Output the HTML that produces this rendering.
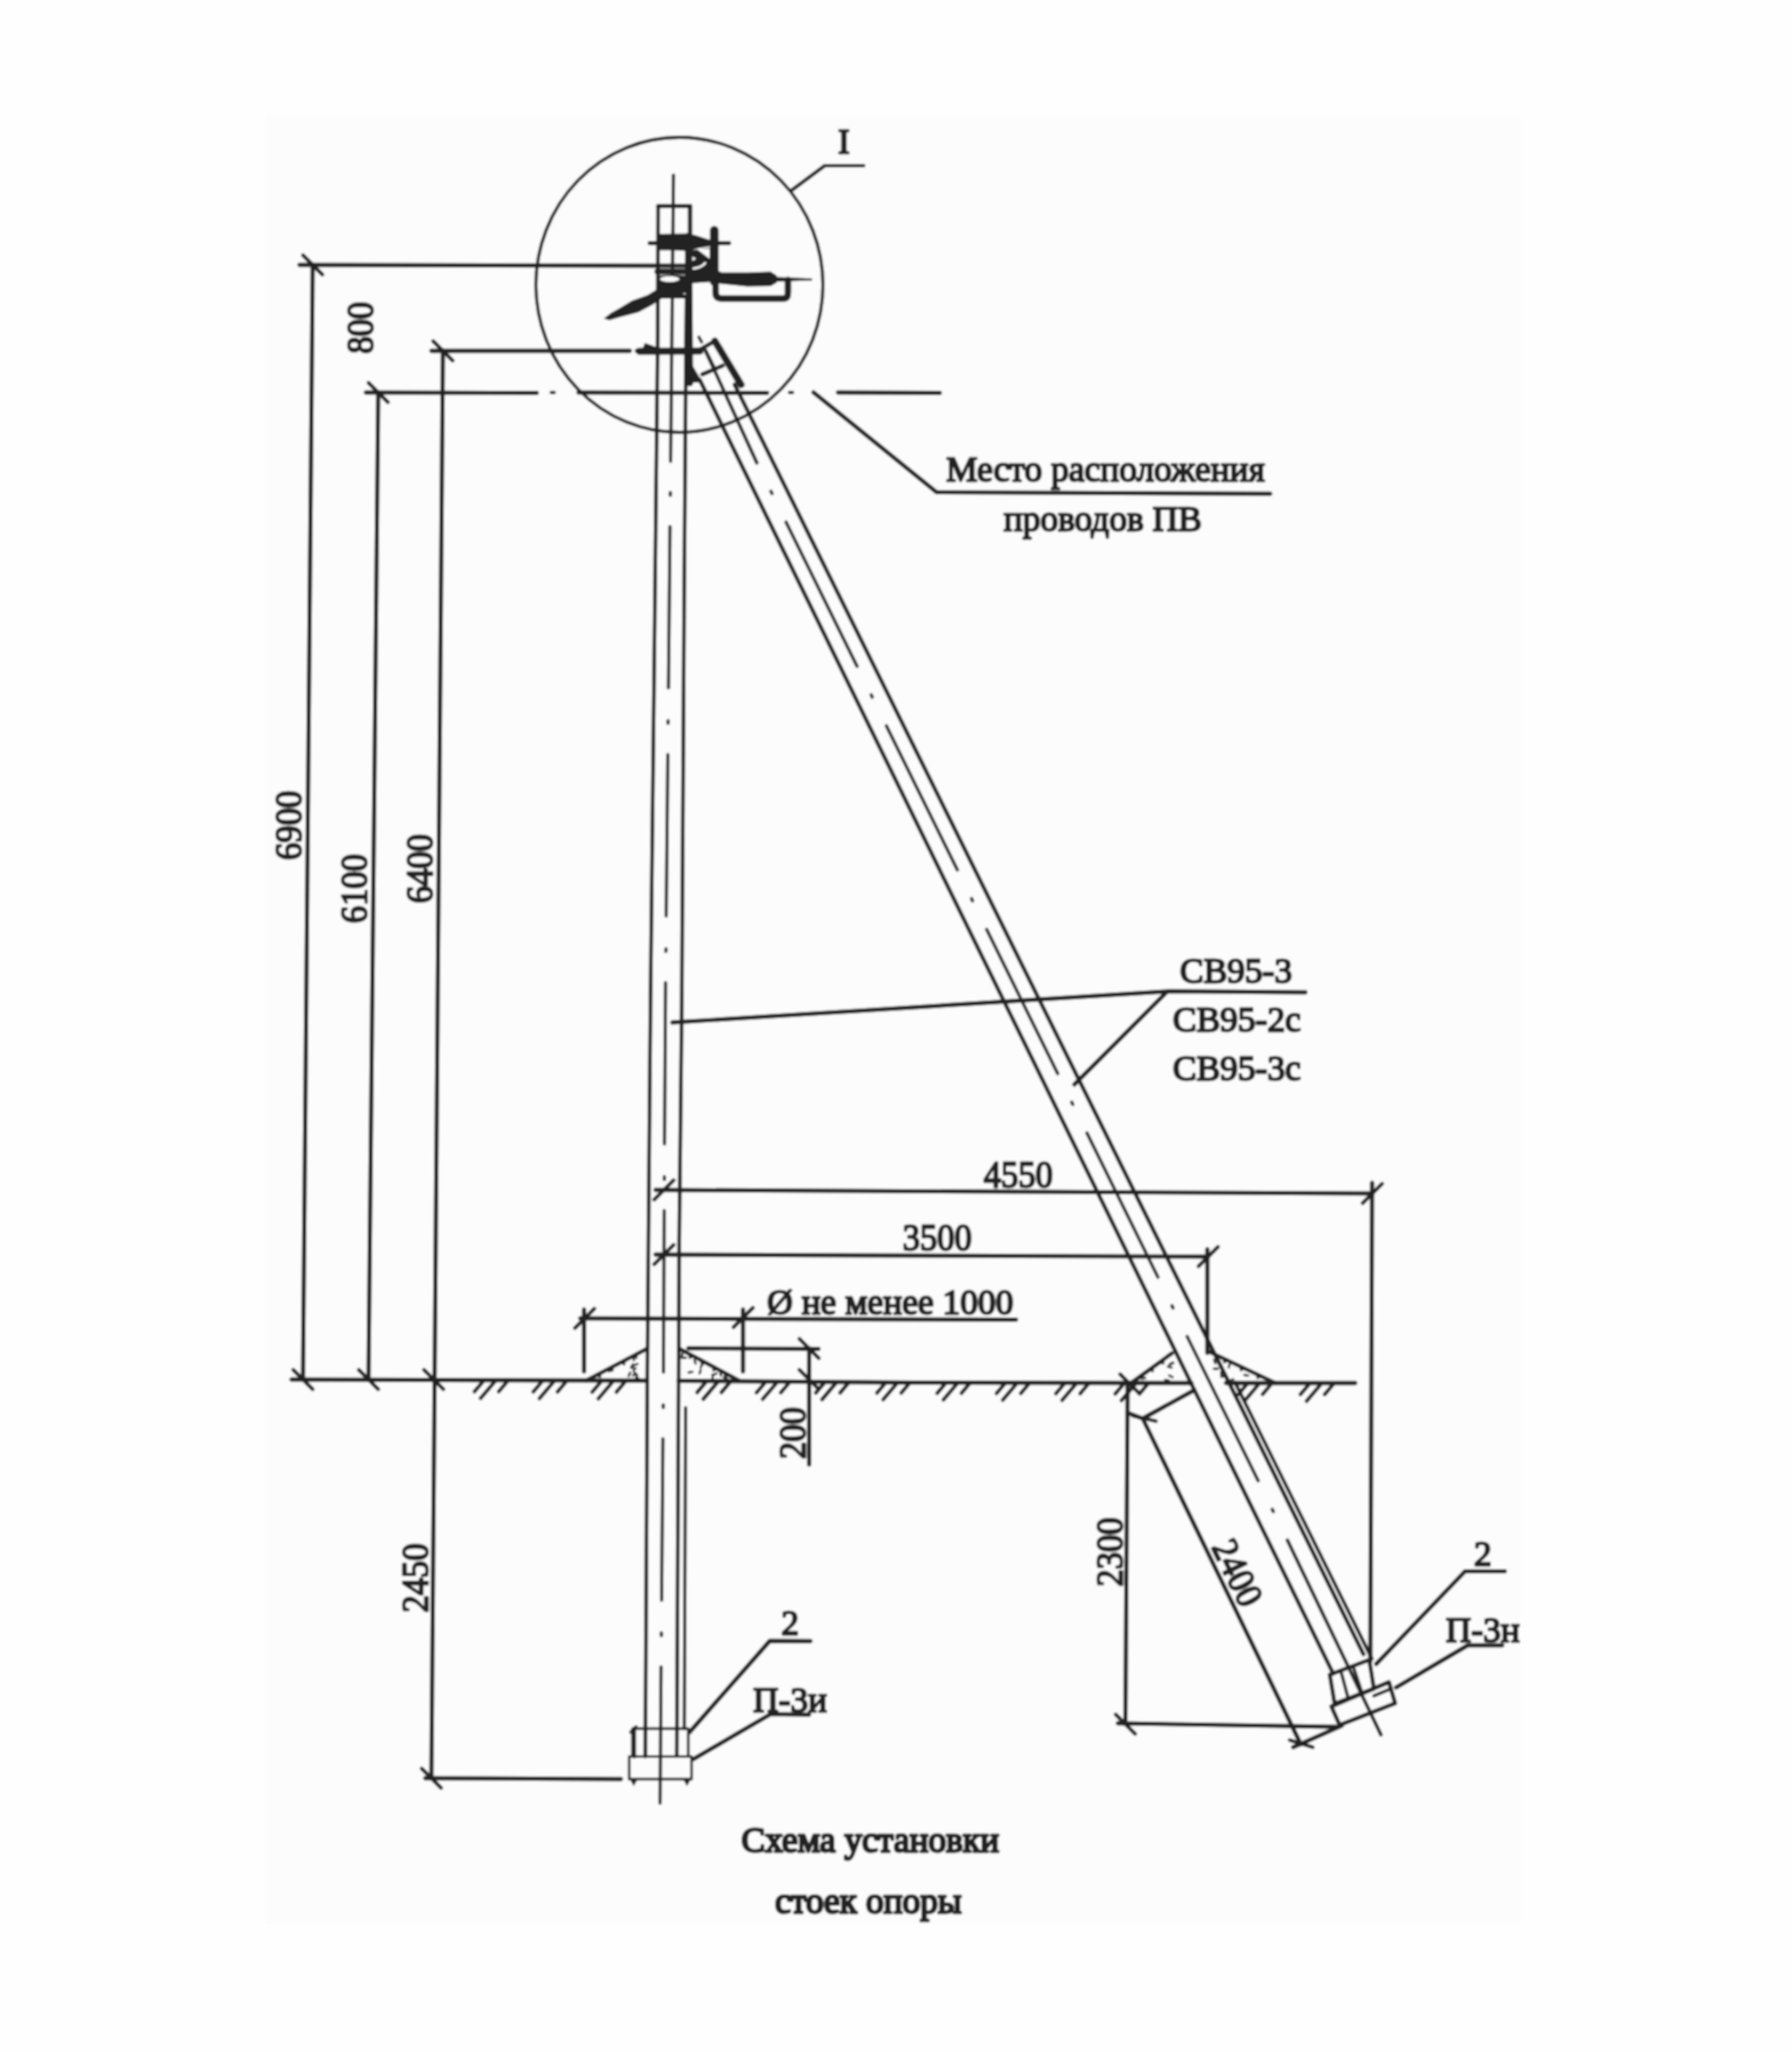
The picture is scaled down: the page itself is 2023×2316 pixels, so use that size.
<!DOCTYPE html>
<html><head><meta charset="utf-8"><style>
html,body{margin:0;padding:0;background:#fefefe;}
svg{display:block}
text{font-family:"Liberation Serif",serif;font-size:40px;fill:#222222;stroke:#222222;stroke-width:2.4px}
</style></head><body><div id="w">
<svg width="2023" height="2316" viewBox="0 0 2023 2316">
<defs><filter id="bl" x="0" y="0" width="1" height="1"><feGaussianBlur stdDeviation="0.9"/></filter></defs>
<g stroke="#222222" stroke-linecap="round" stroke-linejoin="round" filter="url(#bl)">
<rect x="299" y="130" width="1418" height="2042" fill="#fcfcfc" stroke="none"/>
<line x1="353.0" y1="299.0" x2="342.0" y2="1557.0" stroke-width="4.93" />
<line x1="342.0" y1="288.0" x2="364.0" y2="310.0" stroke-width="4.35" />
<line x1="331.0" y1="1546.0" x2="353.0" y2="1568.0" stroke-width="4.35" />
<line x1="427.0" y1="443.0" x2="416.0" y2="1557.0" stroke-width="4.93" />
<line x1="416.0" y1="432.0" x2="438.0" y2="454.0" stroke-width="4.35" />
<line x1="405.0" y1="1546.0" x2="427.0" y2="1568.0" stroke-width="4.35" />
<line x1="500.0" y1="396.0" x2="487.0" y2="2007.0" stroke-width="4.93" />
<line x1="489.0" y1="385.0" x2="511.0" y2="407.0" stroke-width="4.35" />
<line x1="478.6" y1="1546.0" x2="500.6" y2="1568.0" stroke-width="4.35" />
<line x1="476.0" y1="1996.0" x2="498.0" y2="2018.0" stroke-width="4.35" />
<line x1="338.0" y1="299.0" x2="776.0" y2="300.0" stroke-width="4.93" />
<line x1="487.0" y1="396.0" x2="711.0" y2="396.0" stroke-width="4.93" />
<line x1="719.0" y1="396.0" x2="786.0" y2="396.0" stroke-width="4.93" />
<line x1="413.0" y1="443.0" x2="606.0" y2="443.5" stroke-width="4.93" />
<line x1="653.0" y1="443.0" x2="866.0" y2="443.5" stroke-width="4.93" />
<line x1="946.0" y1="443.0" x2="1061.0" y2="443.5" stroke-width="4.93" />
<line x1="622.5" y1="443.0" x2="625.5" y2="443.0" stroke-width="4.06" />
<line x1="891.5" y1="443.0" x2="894.5" y2="443.0" stroke-width="4.06" />
<line x1="480.0" y1="2007.0" x2="701.0" y2="2008.0" stroke-width="4.93" />
<polyline points="329.0,1557.0 730.0,1558.3" fill="none" stroke-width="4.93" />
<polyline points="766.0,1558.5 1030.0,1560.5 1345.0,1561.0" fill="none" stroke-width="4.93" />
<polyline points="1384.0,1561.0 1530.0,1561.0" fill="none" stroke-width="4.93" />
<line x1="535.6" y1="1570.7" x2="545.0" y2="1559.7" stroke-width="4.35" />
<line x1="542.6" y1="1578.2" x2="558.3" y2="1559.7" stroke-width="4.35" />
<line x1="563.0" y1="1570.7" x2="572.3" y2="1559.7" stroke-width="4.35" />
<line x1="602.0" y1="1570.9" x2="611.4" y2="1559.9" stroke-width="4.35" />
<line x1="609.0" y1="1578.4" x2="624.7" y2="1559.9" stroke-width="4.35" />
<line x1="629.4" y1="1570.9" x2="638.7" y2="1559.9" stroke-width="4.35" />
<line x1="668.5" y1="1571.1" x2="677.9" y2="1560.1" stroke-width="4.35" />
<line x1="675.5" y1="1578.6" x2="691.2" y2="1560.1" stroke-width="4.35" />
<line x1="695.9" y1="1571.1" x2="705.2" y2="1560.1" stroke-width="4.35" />
<line x1="787.0" y1="1571.5" x2="796.4" y2="1560.5" stroke-width="4.35" />
<line x1="794.0" y1="1579.0" x2="809.7" y2="1560.5" stroke-width="4.35" />
<line x1="814.4" y1="1571.5" x2="823.7" y2="1560.5" stroke-width="4.35" />
<line x1="854.0" y1="1571.8" x2="863.4" y2="1560.8" stroke-width="4.35" />
<line x1="861.0" y1="1579.2" x2="876.7" y2="1560.8" stroke-width="4.35" />
<line x1="881.4" y1="1571.8" x2="890.7" y2="1560.8" stroke-width="4.35" />
<line x1="921.0" y1="1572.0" x2="930.4" y2="1561.0" stroke-width="4.35" />
<line x1="928.0" y1="1579.5" x2="943.7" y2="1561.0" stroke-width="4.35" />
<line x1="948.4" y1="1572.0" x2="957.7" y2="1561.0" stroke-width="4.35" />
<line x1="990.0" y1="1572.2" x2="999.4" y2="1561.2" stroke-width="4.35" />
<line x1="997.0" y1="1579.7" x2="1012.7" y2="1561.2" stroke-width="4.35" />
<line x1="1017.4" y1="1572.2" x2="1026.7" y2="1561.2" stroke-width="4.35" />
<line x1="1058.0" y1="1572.4" x2="1067.4" y2="1561.4" stroke-width="4.35" />
<line x1="1065.0" y1="1579.9" x2="1080.7" y2="1561.4" stroke-width="4.35" />
<line x1="1085.4" y1="1572.4" x2="1094.7" y2="1561.4" stroke-width="4.35" />
<line x1="1125.0" y1="1572.7" x2="1134.4" y2="1561.7" stroke-width="4.35" />
<line x1="1132.0" y1="1580.2" x2="1147.7" y2="1561.7" stroke-width="4.35" />
<line x1="1152.4" y1="1572.7" x2="1161.7" y2="1561.7" stroke-width="4.35" />
<line x1="1192.0" y1="1572.9" x2="1201.4" y2="1561.9" stroke-width="4.35" />
<line x1="1199.0" y1="1580.4" x2="1214.7" y2="1561.9" stroke-width="4.35" />
<line x1="1219.4" y1="1572.9" x2="1228.7" y2="1561.9" stroke-width="4.35" />
<line x1="1259.0" y1="1573.1" x2="1268.4" y2="1562.1" stroke-width="4.35" />
<line x1="1266.0" y1="1580.6" x2="1281.7" y2="1562.1" stroke-width="4.35" />
<line x1="1286.4" y1="1573.1" x2="1295.7" y2="1562.1" stroke-width="4.35" />
<line x1="1398.0" y1="1573.6" x2="1407.4" y2="1562.6" stroke-width="4.35" />
<line x1="1405.0" y1="1581.1" x2="1420.7" y2="1562.6" stroke-width="4.35" />
<line x1="1425.4" y1="1573.6" x2="1434.7" y2="1562.6" stroke-width="4.35" />
<line x1="1468.0" y1="1573.8" x2="1477.4" y2="1562.8" stroke-width="4.35" />
<line x1="1475.0" y1="1581.3" x2="1490.7" y2="1562.8" stroke-width="4.35" />
<line x1="1495.4" y1="1573.8" x2="1504.7" y2="1562.8" stroke-width="4.35" />
<line x1="743.0" y1="232.6" x2="779.0" y2="232.6" stroke-width="4.93" />
<line x1="779.0" y1="232.6" x2="779.0" y2="265.0" stroke-width="4.93" />
<polyline points="743.0,232.6 742.5,380.0 739.3,680.0 734.5,1115.0 732.0,1400.0 730.8,1550.0 728.5,1982.5" fill="none" stroke-width="4.35" />
<polyline points="776.0,265.0 774.5,380.0 772.3,680.0 769.7,1130.0 766.8,1400.0 766.1,1550.0 764.0,1982.0" fill="none" stroke-width="4.35" />
<line x1="774.0" y1="1589.0" x2="772.5" y2="1951.0" stroke-width="3.77" />
<line x1="760.3" y1="197.6" x2="757.1" y2="520.6" stroke-width="3.77" />
<line x1="756.7" y1="556.0" x2="756.7" y2="559.0" stroke-width="3.77" />
<line x1="756.4" y1="594.3" x2="754.6" y2="776.3" stroke-width="3.77" />
<line x1="754.3" y1="813.4" x2="754.2" y2="816.4" stroke-width="3.77" />
<line x1="753.9" y1="851.7" x2="752.1" y2="1033.7" stroke-width="3.77" />
<line x1="751.8" y1="1070.8" x2="751.7" y2="1073.8" stroke-width="3.77" />
<line x1="751.4" y1="1109.1" x2="750.2" y2="1291.1" stroke-width="3.77" />
<line x1="750.0" y1="1328.2" x2="750.0" y2="1331.2" stroke-width="3.77" />
<line x1="749.8" y1="1366.5" x2="749.0" y2="1548.5" stroke-width="3.77" />
<line x1="748.7" y1="1585.6" x2="748.7" y2="1588.6" stroke-width="3.77" />
<line x1="748.4" y1="1623.9" x2="746.9" y2="1805.9" stroke-width="3.77" />
<line x1="746.6" y1="1843.0" x2="746.6" y2="1846.0" stroke-width="3.77" />
<line x1="746.3" y1="1881.3" x2="745.2" y2="2035.0" stroke-width="3.77" />
<ellipse cx="767" cy="321.5" rx="162" ry="166.5" fill="none" stroke-width="3.8"/>
<polyline points="893.4,215.0 931.0,187.0 975.0,187.0" fill="none" stroke-width="4.06" />
<text x="952.7" y="173.0" text-anchor="middle" >I</text>
<polygon points="742.0,264.0 777.6,263.4 787.0,266.0 803.7,271.5 806.0,274.4 804.4,277.5 787.0,280.5 777.6,283.5 760.0,282.5 742.0,282.5" fill="#222222" stroke="none" />
<line x1="733.4" y1="274.4" x2="823.1" y2="274.4" stroke-width="4.64" />
<line x1="806.4" y1="260.0" x2="806.4" y2="318.0" stroke-width="9.86" />
<polygon points="777.0,283.0 806.0,279.0 806.0,318.0 777.0,320.0" fill="#222222" stroke="none" />
<polygon points="786.5,281.0 801.0,281.0 801.0,292.0" fill="#fbfbfb" stroke="none"/>
<polygon points="779.0,288.0 786.0,292.0 779.0,296.0" fill="#fbfbfb" stroke="none"/>
<path d="M 783,303 Q 792,302 796,297" fill="none" stroke-width="2.6" stroke="#fbfbfb"/>
<line x1="742.0" y1="306.5" x2="777.6" y2="306.5" stroke-width="6.52" />
<polygon points="742.0,311.0 760.0,310.0 777.6,311.0 777.6,337.0 742.0,337.0" fill="#222222" stroke="none" />
<ellipse cx="756" cy="315" rx="11" ry="3.2" fill="#fbfbfb" stroke="none"/>
<polygon points="757.0,326.0 775.0,324.5 775.0,333.0" fill="#fbfbfb" stroke="none"/>
<polygon points="681.6,359.6 690.0,353.0 699.0,348.0 713.5,339.3 731.0,333.0 742.5,326.0 760.0,321.0 778.0,318.0 778.0,330.0 760.0,333.0 748.4,336.0 736.7,344.0 720.8,352.4 699.0,358.2 688.0,361.5" fill="#222222" stroke="none" />
<polygon points="805.0,303.5 815.0,307.5 844.0,307.5 870.0,306.5 877.0,311.0 877.0,319.0 870.0,323.0 844.0,323.5 815.0,320.5 805.0,319.0" fill="#222222" stroke="none" />
<polygon points="876.0,312.5 916.7,314.2 917.0,316.6 876.0,318.0" fill="#222222" stroke="none" />
<path d="M 807.8,316 L 807.8,330 Q 807.8,337 815,337 L 884.7,337 Q 889.5,337 889.5,330 L 889.5,316" fill="none" stroke-width="7.5" />
<line x1="777.5" y1="283.0" x2="778.5" y2="432.0" stroke-width="7.97" />
<line x1="722.0" y1="396.6" x2="790.0" y2="396.2" stroke-width="7.97" />
<polygon points="728.0,387.0 742.0,392.0 744.0,401.0 733.0,399.0 724.0,397.0" fill="#222222" stroke="none" />
<polygon points="774.0,404.0 780.4,410.0 792.0,429.6 792.0,431.4 775.9,432.0" fill="#222222" stroke="none" />
<line x1="784.8" y1="397.5" x2="807.0" y2="385.0" stroke-width="4.64" />
<line x1="807.0" y1="385.0" x2="836.6" y2="434.1" stroke-width="7.97" />
<line x1="792.9" y1="422.5" x2="816.0" y2="412.7" stroke-width="4.64" />
<line x1="796.4" y1="395.7" x2="807.0" y2="417.0" stroke-width="4.35" />
<line x1="789.0" y1="380.5" x2="792.0" y2="386.0" stroke-width="3.62" />
<line x1="790.1" y1="429.0" x2="1505.1" y2="1889.0" stroke-width="4.64" />
<line x1="829.3" y1="434.0" x2="1539.2" y2="1867.0" stroke-width="4.64" />
<line x1="1394.1" y1="1560.0" x2="1548.7" y2="1872.0" stroke-width="4.06" />
<line x1="796.4" y1="395.7" x2="854.4" y2="522.3" stroke-width="4.06" />
<line x1="870.3" y1="554.5" x2="871.6" y2="557.1" stroke-width="3.77" />
<line x1="887.4" y1="589.3" x2="967.6" y2="752.1" stroke-width="3.77" />
<line x1="983.5" y1="784.3" x2="984.7" y2="786.9" stroke-width="3.77" />
<line x1="1000.6" y1="819.1" x2="1080.8" y2="981.9" stroke-width="3.77" />
<line x1="1096.7" y1="1014.1" x2="1097.9" y2="1016.7" stroke-width="3.77" />
<line x1="1113.8" y1="1048.9" x2="1194.0" y2="1211.7" stroke-width="3.77" />
<line x1="1209.8" y1="1243.9" x2="1211.1" y2="1246.5" stroke-width="3.77" />
<line x1="1227.0" y1="1278.7" x2="1307.2" y2="1441.5" stroke-width="3.77" />
<line x1="1323.0" y1="1473.7" x2="1324.3" y2="1476.3" stroke-width="3.77" />
<line x1="1340.2" y1="1508.5" x2="1420.4" y2="1671.3" stroke-width="3.77" />
<line x1="1436.2" y1="1703.5" x2="1437.5" y2="1706.1" stroke-width="3.77" />
<line x1="1453.4" y1="1738.3" x2="1559.0" y2="1958.0" stroke-width="4.06" />
<polyline points="662.0,1558.0 730.4,1522.3" fill="none" stroke-width="4.64" />
<polyline points="767.0,1522.3 834.0,1558.0" fill="none" stroke-width="4.64" />
<polyline points="1275.5,1562.0 1323.0,1527.4" fill="none" stroke-width="4.64" />
<polyline points="1364.8,1525.5 1440.0,1561.0" fill="none" stroke-width="4.64" />
<line x1="655.0" y1="1488.0" x2="1147.0" y2="1489.5" stroke-width="4.93" />
<line x1="649.0" y1="1499.0" x2="671.0" y2="1477.0" stroke-width="4.35" />
<line x1="828.0" y1="1498.0" x2="850.0" y2="1476.0" stroke-width="4.35" />
<line x1="659.3" y1="1478.0" x2="659.3" y2="1548.0" stroke-width="4.93" />
<line x1="838.8" y1="1478.0" x2="838.8" y2="1548.0" stroke-width="4.93" />
<line x1="777.0" y1="1521.7" x2="924.0" y2="1522.5" stroke-width="4.93" />
<line x1="913.4" y1="1521.7" x2="913.4" y2="1653.0" stroke-width="4.93" />
<line x1="902.4" y1="1511.0" x2="924.4" y2="1533.0" stroke-width="4.35" />
<line x1="902.4" y1="1546.0" x2="924.4" y2="1568.0" stroke-width="4.35" />
<line x1="740.0" y1="1343.0" x2="1549.3" y2="1347.0" stroke-width="4.93" />
<line x1="738.5" y1="1354.0" x2="760.5" y2="1332.0" stroke-width="4.35" />
<line x1="1538.3" y1="1358.0" x2="1560.3" y2="1336.0" stroke-width="4.35" />
<line x1="1549.0" y1="1335.0" x2="1547.0" y2="1875.0" stroke-width="4.93" />
<line x1="740.0" y1="1416.0" x2="1364.0" y2="1418.3" stroke-width="4.93" />
<line x1="738.5" y1="1427.0" x2="760.5" y2="1405.0" stroke-width="4.35" />
<line x1="1353.0" y1="1429.3" x2="1375.0" y2="1407.3" stroke-width="4.35" />
<line x1="1363.0" y1="1410.0" x2="1363.0" y2="1527.0" stroke-width="4.93" />
<line x1="1273.0" y1="1562.0" x2="1270.5" y2="1946.0" stroke-width="4.93" />
<line x1="1264.5" y1="1551.0" x2="1286.5" y2="1573.0" stroke-width="4.35" />
<line x1="1259.5" y1="1935.0" x2="1281.5" y2="1957.0" stroke-width="4.35" />
<line x1="1262.0" y1="1945.0" x2="1509.0" y2="1949.0" stroke-width="4.93" />
<line x1="1290.0" y1="1601.0" x2="1468.6" y2="1968.8" stroke-width="4.93" />
<line x1="1279.0" y1="1598.0" x2="1305.0" y2="1604.0" stroke-width="4.35" />
<line x1="1456.0" y1="1964.0" x2="1482.0" y2="1972.0" stroke-width="4.35" />
<line x1="1273.4" y1="1594.7" x2="1290.0" y2="1601.0" stroke-width="4.93" />
<line x1="1290.0" y1="1601.0" x2="1348.2" y2="1569.0" stroke-width="4.93" />
<line x1="1460.0" y1="1972.0" x2="1514.7" y2="1947.8" stroke-width="4.93" />
<rect x="714" y="1951" width="63" height="31.5" fill="none" stroke-width="3"/>
<rect x="710.3" y="1982.5" width="70.4" height="25.5" fill="none" stroke-width="3"/>
<line x1="716.0" y1="1951.0" x2="716.0" y2="1982.5" stroke-width="4.35" />
<polygon points="711.0,2008.0 720.0,2008.0 715.4,2016.0" fill="#222222" stroke="none" />
<polygon points="771.0,2008.0 780.0,2008.0 775.6,2016.0" fill="#222222" stroke="none" />
<line x1="712.0" y1="1955.0" x2="718.0" y2="1949.0" stroke-width="3.62" />
<polygon points="672.0,1552.8 679.4,1548.9 678.2,1555.7" fill="#222222" stroke="none" />
<polygon points="685.6,1545.7 693.1,1541.8 691.9,1548.6" fill="#222222" stroke="none" />
<polygon points="699.3,1538.5 706.8,1534.6 705.6,1541.4" fill="#222222" stroke="none" />
<polygon points="713.0,1531.4 720.4,1527.5 719.2,1534.3" fill="#222222" stroke="none" />
<polygon points="776.7,1527.5 784.1,1531.4 777.8,1534.3" fill="#222222" stroke="none" />
<polygon points="790.1,1534.6 797.5,1538.6 791.2,1541.4" fill="#222222" stroke="none" />
<polygon points="803.5,1541.7 810.9,1545.7 804.6,1548.5" fill="#222222" stroke="none" />
<polygon points="816.9,1548.9 824.3,1552.8 818.0,1555.7" fill="#222222" stroke="none" />
<polygon points="1284.0,1555.8 1290.8,1550.9 1290.6,1557.8" fill="#222222" stroke="none" />
<polygon points="1295.9,1547.2 1302.6,1542.2 1302.5,1549.1" fill="#222222" stroke="none" />
<polygon points="1307.7,1538.5 1314.5,1533.6 1314.3,1540.5" fill="#222222" stroke="none" />
<polygon points="1379.8,1532.6 1387.4,1536.2 1381.3,1539.3" fill="#222222" stroke="none" />
<polygon points="1398.6,1541.5 1406.2,1545.0 1400.1,1548.2" fill="#222222" stroke="none" />
<polygon points="1417.4,1550.3 1425.0,1553.9 1418.9,1557.1" fill="#222222" stroke="none" />
<line x1="715.3" y1="1546.8" x2="717.0" y2="1550.9" stroke-width="2.61" />
<line x1="713.3" y1="1543.7" x2="717.6" y2="1544.6" stroke-width="2.61" />
<line x1="718.7" y1="1554.0" x2="721.7" y2="1557.2" stroke-width="2.61" />
<line x1="715.2" y1="1530.8" x2="715.6" y2="1535.2" stroke-width="2.61" />
<line x1="711.5" y1="1549.1" x2="709.6" y2="1553.1" stroke-width="2.61" />
<line x1="718.4" y1="1550.6" x2="714.3" y2="1552.4" stroke-width="2.61" />
<line x1="714.5" y1="1539.8" x2="712.3" y2="1543.6" stroke-width="2.61" />
<line x1="719.1" y1="1552.0" x2="717.9" y2="1556.2" stroke-width="2.61" />
<line x1="691.6" y1="1546.1" x2="687.6" y2="1547.9" stroke-width="2.61" />
<line x1="719.7" y1="1539.4" x2="715.7" y2="1541.0" stroke-width="2.61" />
<line x1="783.9" y1="1534.9" x2="785.3" y2="1539.0" stroke-width="2.61" />
<line x1="781.7" y1="1548.2" x2="777.4" y2="1549.1" stroke-width="2.61" />
<line x1="817.0" y1="1554.4" x2="821.0" y2="1556.2" stroke-width="2.61" />
<line x1="813.0" y1="1548.4" x2="813.9" y2="1552.7" stroke-width="2.61" />
<line x1="804.4" y1="1551.6" x2="804.3" y2="1556.0" stroke-width="2.61" />
<line x1="791.0" y1="1546.0" x2="789.8" y2="1550.2" stroke-width="2.61" />
<line x1="793.3" y1="1539.5" x2="790.9" y2="1543.2" stroke-width="2.61" />
<line x1="774.3" y1="1532.4" x2="769.9" y2="1532.5" stroke-width="2.61" />
<line x1="808.9" y1="1550.1" x2="804.9" y2="1552.0" stroke-width="2.61" />
<line x1="770.5" y1="1527.8" x2="769.6" y2="1532.1" stroke-width="2.61" />
<line x1="1323.9" y1="1537.9" x2="1320.1" y2="1540.1" stroke-width="2.61" />
<line x1="1318.3" y1="1542.5" x2="1322.6" y2="1543.4" stroke-width="2.61" />
<line x1="1288.8" y1="1554.3" x2="1293.0" y2="1555.5" stroke-width="2.61" />
<line x1="1319.9" y1="1552.4" x2="1323.8" y2="1554.4" stroke-width="2.61" />
<line x1="1324.7" y1="1538.4" x2="1320.7" y2="1540.1" stroke-width="2.61" />
<line x1="1315.2" y1="1557.5" x2="1319.5" y2="1558.1" stroke-width="2.61" />
<line x1="1392.2" y1="1556.8" x2="1388.1" y2="1558.4" stroke-width="2.61" />
<line x1="1374.9" y1="1544.9" x2="1370.5" y2="1544.9" stroke-width="2.61" />
<line x1="1388.4" y1="1539.1" x2="1387.1" y2="1543.3" stroke-width="2.61" />
<line x1="1370.7" y1="1534.5" x2="1372.0" y2="1538.7" stroke-width="2.61" />
<line x1="1404.8" y1="1551.9" x2="1409.1" y2="1552.5" stroke-width="2.61" />
<line x1="1383.2" y1="1553.4" x2="1378.8" y2="1554.0" stroke-width="2.61" />
<line x1="1378.5" y1="1548.9" x2="1379.0" y2="1553.2" stroke-width="2.61" />
<polyline points="1501.2,1890.1 1545.8,1873.4 1551.0,1906.0 1506.7,1923.0 1501.2,1890.1" fill="none" stroke-width="4.64" />
<polyline points="1503.0,1926.0 1568.0,1898.5 1575.0,1922.5 1512.3,1947.0 1503.0,1926.0" fill="none" stroke-width="4.64" />
<line x1="1514.0" y1="1887.0" x2="1522.0" y2="1917.0" stroke-width="3.77" />
<line x1="1528.0" y1="1882.0" x2="1538.0" y2="1912.0" stroke-width="3.77" />
<line x1="1551.0" y1="1914.0" x2="1568.0" y2="1907.0" stroke-width="3.77" />
<polyline points="918.4,442.8 1057.4,555.6 1434.0,557.3" fill="none" stroke-width="4.93" />
<polyline points="759.0,1154.0 1321.0,1118.7 1473.7,1120.0" fill="none" stroke-width="4.93" />
<line x1="1212.9" y1="1223.9" x2="1316.8" y2="1120.0" stroke-width="4.93" />
<polyline points="778.5,1955.0 869.0,1852.0 915.0,1852.3" fill="none" stroke-width="4.93" />
<polyline points="782.9,1985.4 870.0,1934.6 913.4,1935.3" fill="none" stroke-width="4.93" />
<polyline points="1553.7,1878.0 1654.0,1773.4 1698.8,1773.4" fill="none" stroke-width="4.93" />
<polyline points="1576.0,1904.6 1657.0,1857.0 1696.0,1857.0" fill="none" stroke-width="4.93" />
<text x="1068.0" y="543.0" text-anchor="start" >Место расположения</text>
<text x="1133.0" y="599.0" text-anchor="start" >проводов ПВ</text>
<text x="1332.0" y="1108.5" text-anchor="start" >СВ95-3</text>
<text x="1324.0" y="1163.7" text-anchor="start" >СВ95-2с</text>
<text x="1324.0" y="1218.8" text-anchor="start" >СВ95-3с</text>
<text transform="translate(1149.5,1340.0) scale(0.93,1)" x="0" y="0" text-anchor="middle" style="font-size:42px">4550</text>
<text transform="translate(1058.0,1411.0) scale(0.93,1)" x="0" y="0" text-anchor="middle" style="font-size:42px">3500</text>
<text x="866.0" y="1483.0" text-anchor="start" >Ø не менее 1000</text>
<text x="892.0" y="1845.0" text-anchor="middle" >2</text>
<text x="850.0" y="1931.5" text-anchor="start" >П-3и</text>
<text x="837.0" y="2090.0" text-anchor="start" style="stroke-width:3.0px">Схема установки</text>
<text x="875.0" y="2158.5" text-anchor="start" style="stroke-width:3.0px">стоек опоры</text>
<text x="1674.0" y="1766.5" text-anchor="middle" >2</text>
<text x="1632.0" y="1853.0" text-anchor="start" >П-3н</text>
<text transform="translate(407.0,370.0) rotate(-90) scale(0.93,1)" x="0" y="14" text-anchor="middle" style="font-size:42px">800</text>
<text transform="translate(326.0,931.6) rotate(-90) scale(0.93,1)" x="0" y="14" text-anchor="middle" style="font-size:42px">6900</text>
<text transform="translate(400.4,1003.0) rotate(-90) scale(0.93,1)" x="0" y="14" text-anchor="middle" style="font-size:42px">6100</text>
<text transform="translate(474.4,980.5) rotate(-90) scale(0.93,1)" x="0" y="14" text-anchor="middle" style="font-size:42px">6400</text>
<text transform="translate(468.5,1781.0) rotate(-90) scale(0.93,1)" x="0" y="14" text-anchor="middle" style="font-size:42px">2450</text>
<text transform="translate(894.5,1617.5) rotate(-90) scale(0.93,1)" x="0" y="14" text-anchor="middle" style="font-size:42px">200</text>
<text transform="translate(1253.0,1751.8) rotate(-90) scale(0.93,1)" x="0" y="14" text-anchor="middle" style="font-size:42px">2300</text>
<text transform="translate(1397.0,1775.0) rotate(64) scale(0.93,1)" x="0" y="14" text-anchor="middle" style="font-size:42px">2400</text>
</g></svg></div></body></html>
